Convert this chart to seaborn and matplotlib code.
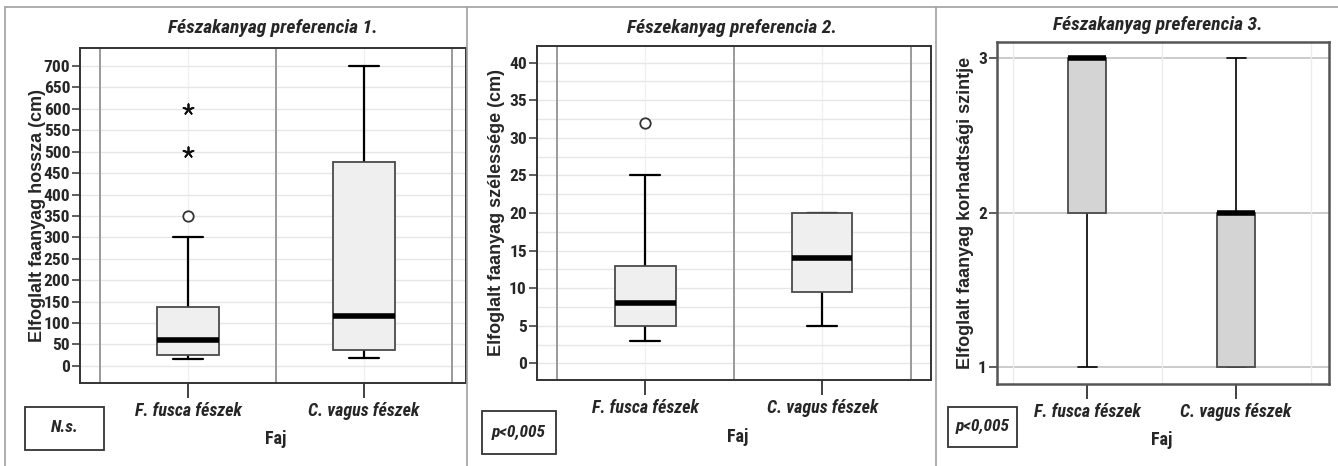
import matplotlib
matplotlib.use("Agg")
import numpy as np
import pandas as pd
import seaborn as sns
import matplotlib.pyplot as plt
from matplotlib import font_manager
from matplotlib.lines import Line2D
from matplotlib.patches import Rectangle
from matplotlib.ticker import MultipleLocator

categories = ["F. fusca fészek", "C. vagus fészek"]

# Five-number summaries per group: lower whisker, Q1, median, Q3, upper whisker
length_fusca = [16, 25, 60, 138, 300]
length_vagus = [18, 36, 117, 475, 700]
length_out_circle = [350]
length_out_star = [500, 600]

width_fusca = [3, 5, 8, 13, 25]
width_vagus = [5, 9.5, 14, 20, 20]
width_out_circle = [32]

decay_fusca = [1, 2, 3, 3, 3]
decay_vagus = [1, 1, 2, 2, 3]

titles = ["Fészakanyag preferencia 1.", "Fészekanyag preferencia 2.",
          "Fészakanyag preferencia 3."]
ylabels = ["Elfoglalt faanyag hossza (cm)", "Elfoglalt faanyag szélessége (cm)",
           "Elfoglalt faanyag korhadtsági szintje"]
xlabel = "Faj"
pvalues = ["N.s.", "p<0,005", "p<0,005"]

length_ticks = list(range(0, 701, 50))
width_ticks = list(range(0, 41, 5))
decay_ticks = [1, 2, 3]

sns.set_theme(style="white")

# Prefer a narrow sans face for tick labels when one is installed
available = {f.name for f in font_manager.fontManager.ttflist}
narrow_face = next((n for n in ["Liberation Sans Narrow", "Arial Narrow",
                                "Roboto Condensed", "Open Sans Condensed"]
                    if n in available), None)
if narrow_face:
    NARROW = [narrow_face, "DejaVu Sans"]
    fs = dict(tick=12.5, cat=13, box=12.5, faj=13, title=14)
else:
    NARROW = ["Liberation Sans", "DejaVu Sans"]
    fs = dict(tick=10.5, cat=11, box=11.3, faj=11.5, title=11)
WIDE = ["Liberation Sans", "DejaVu Sans"]
plt.rcParams["font.family"] = NARROW

W, H = 1338, 466
fig = plt.figure(figsize=(W / 100, H / 100), dpi=100)


def rect_px(left, top, right, bottom):
    return [left / W, 1 - bottom / H, (right - left) / W, (bottom - top) / H]


def long_frame(a, b):
    return pd.DataFrame({
        "Faj": [categories[0]] * len(a) + [categories[1]] * len(b),
        "value": list(a) + list(b),
    })


panels = [
    dict(rect=rect_px(80, 48, 466, 383), data=long_frame(length_fusca, length_vagus),
         ylim=(-40, 742), ticks=length_ticks, minor=None, xlim=(-0.614, 1.58),
         fill="#efefef", width=0.35, style="spss"),
    dict(rect=rect_px(536.5, 46, 930.7, 380), data=long_frame(width_fusca, width_vagus),
         ylim=(-2.2, 42.2), ticks=width_ticks, minor=2.5, xlim=(-0.616, 1.613),
         fill="#efefef", width=0.34, style="spss"),
    dict(rect=rect_px(996.7, 41.7, 1328.5, 384), data=long_frame(decay_fusca, decay_vagus),
         ylim=(0.888, 3.108), ticks=decay_ticks, minor=None, xlim=(-0.607, 1.62),
         fill="#d4d4d4", width=0.257, style="plain"),
]

axes = []
for i, p in enumerate(panels):
    ax = fig.add_axes(p["rect"])
    axes.append(ax)
    thin = p["style"] == "plain"
    sns.boxplot(
        data=p["data"], x="Faj", y="value", order=categories, ax=ax,
        whis=(0, 100), showfliers=False, width=p["width"],
        color=p["fill"], saturation=1, linecolor="#4a4a4a",
        boxprops=dict(facecolor=p["fill"], edgecolor="#4a4a4a", linewidth=1.3, zorder=3),
        medianprops=dict(color="black", linewidth=4.0, solid_capstyle="butt", zorder=4),
        whiskerprops=dict(color="black", linewidth=1.2 if thin else 1.6, zorder=2.5),
        capprops=dict(color="black", linewidth=1.2 if thin else 1.6, zorder=2.5),
    )
    ax.set_axisbelow(True)

# Outliers (circles) and extreme values (stars)
sns.stripplot(x=[categories[0]] * len(length_out_circle), y=length_out_circle,
              order=categories, jitter=False, ax=axes[0], marker="o", size=7.5,
              color="white", edgecolor="#333333", linewidth=1.3, zorder=5)
sns.stripplot(x=[categories[0]] * len(length_out_star), y=length_out_star,
              order=categories, jitter=False, ax=axes[0], marker=(5, 2, 0), size=7.5,
              color="#111111", linewidth=1.3, zorder=5)
sns.stripplot(x=[categories[0]] * len(width_out_circle), y=width_out_circle,
              order=categories, jitter=False, ax=axes[1], marker="o", size=7.5,
              color="white", edgecolor="#333333", linewidth=1.3, zorder=5)

bounds = np.arange(len(categories) + 1) - 0.5
label_x = [-0.111, -0.101, -0.0955]
faj_pos = [(0.508, -0.167), (0.510, -0.170), (0.498, -0.164)]

for i, (ax, p) in enumerate(zip(axes, panels)):
    ax.set_xlim(*p["xlim"])
    ax.set_ylim(*p["ylim"])
    ax.set_yticks(p["ticks"])
    ax.set_yticklabels([str(t) for t in p["ticks"]], fontsize=fs["tick"],
                       fontweight="bold", family=NARROW)
    ax.set_xticks(range(len(categories)))
    ax.set_xticklabels(categories, fontsize=fs["cat"], fontweight="bold", style="italic",
                       family=NARROW)
    ax.tick_params(axis="y", direction="out", length=6, width=1.1, color="#333333",
                   pad=1, left=True)
    ax.tick_params(axis="x", direction="out", length=11, width=1.3, color="#333333",
                   pad=3, bottom=True)
    if p["minor"]:
        ax.yaxis.set_minor_locator(MultipleLocator(p["minor"]))
        ax.tick_params(axis="y", which="minor", length=0)
    if p["style"] == "spss":
        ax.grid(axis="y", which="both", color="#e6e6e6", linewidth=1.0)
        ax.grid(axis="x", which="major", color="#f0f0f0", linewidth=1.0)
        for b in bounds:
            ax.axvline(b, color="#9a9a9a", linewidth=1.4, zorder=1)
        frame_col, frame_lw = "#333333", 1.4
    else:
        ax.grid(axis="y", which="major", color="#bdbdbd", linewidth=1.1)
        for b in bounds:
            ax.axvline(b, color="#ececec", linewidth=1.0, zorder=1)
        frame_col, frame_lw = "#555555", 1.8
    for s in ax.spines.values():
        s.set_visible(True)
        s.set_color(frame_col)
        s.set_linewidth(frame_lw)

    ax.set_ylabel(ylabels[i], fontsize=13, fontweight="bold", family=WIDE, va="center")
    ax.yaxis.set_label_coords(label_x[i], 0.5)
    ax.set_xlabel(xlabel, fontsize=fs["faj"], fontweight="bold", family=NARROW,
                  va="center")
    ax.xaxis.set_label_coords(*faj_pos[i])

# Panel titles
title_pos = [(273, 28), (732, 28), (1157.5, 25)]
for (x, y), t in zip(title_pos, titles):
    fig.text(x / W, 1 - y / H, t, ha="center", va="center", fontsize=fs["title"],
             fontweight="bold", style="italic", family=NARROW)

# Significance boxes
pboxes = [(25, 406.5, 104, 449.5), (481.7, 410.7, 556, 454), (947.7, 406.7, 1016.7, 446.7)]
for (l, t, r, b), txt in zip(pboxes, pvalues):
    fig.add_artist(Rectangle((l / W, 1 - b / H), (r - l) / W, (b - t) / H,
                             transform=fig.transFigure, facecolor="white",
                             edgecolor="#333333", linewidth=1.3))
    fig.text((l + r) / 2 / W, 1 - (t + b) / 2 / H, txt, ha="center", va="center",
             fontsize=fs["box"], fontweight="bold", style="italic", family=NARROW)

# Panel frame lines
frame = "#a0a0a0"
fig.add_artist(Line2D([5 / W, 1], [1 - 7 / H] * 2, transform=fig.transFigure,
                      color=frame, linewidth=1.2))
for x in (5, 466.7, 935.7):
    fig.add_artist(Line2D([x / W] * 2, [0, 1 - 7 / H], transform=fig.transFigure,
                          color=frame, linewidth=1.2))

fig.savefig("out.png", dpi=100, facecolor="white")
